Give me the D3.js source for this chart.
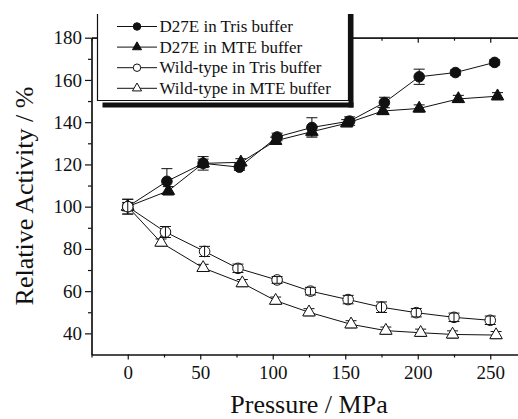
<!DOCTYPE html>
<html>
<head>
<meta charset="utf-8">
<script src="https://cdn.jsdelivr.net/npm/d3@7"></script>
<style>
  html, body { margin: 0; padding: 0; background: #fff; }
  svg { display: block; }
  text { font-family: "Liberation Serif", "Times New Roman", Times, serif; fill: #111; }
</style>
</head>
<body>
<svg id="chart" width="518" height="419"></svg>
<script>
// ---- data ----
const seriesNames = ["D27E in Tris buffer", "D27E in MTE buffer", "Wild-type in Tris buffer", "Wild-type in MTE buffer"];
const seriesSymbols = ["circle", "triangle", "circle", "triangle"];
const seriesFilled = [true, true, false, false];

const pressureD27ETris = [0, 27, 52, 77, 103, 127, 153, 177, 201, 226, 253];
const activityD27ETris = [100, 112, 120.5, 118.7, 133, 137.5, 140.5, 149.3, 161.5, 163.5, 168.3];
const errorD27ETris    = [3.5, 6, 3.2, 1.5, 1.8, 4.6, 2, 2.5, 3.6, 1.2, 1.2];

const pressureD27EMTE = [0, 28, 52, 78, 102, 127, 151, 176, 201, 228, 255];
const activityD27EMTE = [100, 107.5, 120.5, 121, 131.2, 135.5, 139.5, 145.3, 146.5, 151, 152.3];
const errorD27EMTE    = [2, 2, 2, 1.7, 1.7, 2, 1.7, 1.7, 1.7, 1.7, 1.7];

const pressureWTTris = [0, 26, 53, 76, 103, 126, 152, 175, 199, 225, 250];
const activityWTTris = [100, 88, 78.8, 70.8, 65.3, 60, 56, 52.4, 49.8, 47.6, 46.2];
const errorWTTris    = [3.5, 2.6, 2.4, 2, 1.6, 1.8, 2, 2.5, 2, 2, 2];

const pressureWTMTE = [0, 23, 52, 79, 102, 125, 154, 178, 202, 224, 254];
const activityWTMTE = [100, 83, 71, 63.8, 55.5, 50, 44.3, 41.3, 40.3, 39.5, 39.2];
const errorWTMTE    = [1.7, 1.7, 1.7, 1.7, 1.7, 1.7, 1.7, 1.7, 1.7, 1.7, 1.7];

const xMajorTicks = [0, 50, 100, 150, 200, 250];
const xMinorTicks = [-25, 25, 75, 125, 175, 225];
const yMajorTicks = [40, 60, 80, 100, 120, 140, 160, 180];
const yMinorTicks = [50, 70, 90, 110, 130, 150, 170];

const xTitle = "Pressure / MPa";
const yTitle = "Relative Activity / %";

// ---- build series ----
const pressures = [pressureD27ETris, pressureD27EMTE, pressureWTTris, pressureWTMTE];
const activities = [activityD27ETris, activityD27EMTE, activityWTTris, activityWTMTE];
const errors = [errorD27ETris, errorD27EMTE, errorWTTris, errorWTMTE];
const series = seriesNames.map((name, i) => ({
  name, symbol: seriesSymbols[i], filled: seriesFilled[i],
  points: pressures[i].map((p, j) => ({ p, v: activities[i][j], e: errors[i][j] }))
}));

// ---- layout ----
const svg = d3.select("#chart");
const plotLeft = 91.5, plotBottom = 354.5, plotTop = 37.7;
const x = d3.scaleLinear().domain([-25, 275]).range([plotLeft, plotLeft + 300 * 1.45]);
const y = d3.scaleLinear().domain([30, 180]).range([plotBottom, plotTop]);

svg.append("rect").attr("width", 518).attr("height", 419).attr("fill", "#fff");

function styleAxis(g) {
  g.selectAll("path, line").attr("stroke", "#111").attr("stroke-width", 1.2);
  g.selectAll("text").attr("font-family", "Liberation Serif").attr("font-size", 19).attr("fill", "#222");
}
// bottom
svg.append("g").attr("transform", `translate(0,${plotBottom})`)
  .call(d3.axisBottom(x).tickValues(xMajorTicks).tickSize(5).tickSizeOuter(0).tickPadding(6.5).tickFormat(d3.format("d")))
  .call(styleAxis);
svg.append("g").attr("transform", `translate(0,${plotBottom})`)
  .call(d3.axisBottom(x).tickValues(xMinorTicks).tickSize(3).tickSizeOuter(0).tickFormat(""))
  .call(styleAxis);
// top (inward ticks, no labels)
svg.append("g").attr("transform", `translate(0,${plotTop})`)
  .call(d3.axisBottom(x).tickValues(xMajorTicks).tickSize(5).tickSizeOuter(0).tickFormat(""))
  .call(styleAxis);
svg.append("g").attr("transform", `translate(0,${plotTop})`)
  .call(d3.axisBottom(x).tickValues(xMinorTicks).tickSize(3).tickSizeOuter(0).tickFormat(""))
  .call(styleAxis);
// left
svg.append("g").attr("transform", `translate(${plotLeft},0)`)
  .call(d3.axisLeft(y).tickValues(yMajorTicks).tickSize(6.5).tickSizeOuter(0).tickPadding(3).tickFormat(d3.format("d")))
  .call(styleAxis);
svg.append("g").attr("transform", `translate(${plotLeft},0)`)
  .call(d3.axisLeft(y).tickValues(yMinorTicks).tickSize(3.5).tickSizeOuter(0).tickFormat(""))
  .call(styleAxis);

// titles
svg.append("text").attr("x", 309).attr("y", 413).attr("text-anchor", "middle")
  .attr("font-size", 26).text(xTitle);
svg.append("text").attr("transform", `translate(33,196) rotate(-90)`)
  .attr("text-anchor", "middle").attr("font-size", 26).text(yTitle);

const symGen = (sym, size) => d3.symbol().type(sym === "circle" ? d3.symbolCircle : d3.symbolTriangle).size(size)();

const line = d3.line().x(d => x(d.p)).y(d => y(d.v));
const plot = svg.append("g");

function drawErrors(s) {
  const g = plot.append("g").attr("stroke", "#111").attr("stroke-width", 1);
  s.points.forEach(d => {
    const cx = x(d.p), y1 = y(d.v + d.e), y2 = y(d.v - d.e);
    g.append("line").attr("x1", cx).attr("x2", cx).attr("y1", y1).attr("y2", y2);
    g.append("line").attr("x1", cx - 5.5).attr("x2", cx + 5.5).attr("y1", y1).attr("y2", y1);
    g.append("line").attr("x1", cx - 5.5).attr("x2", cx + 5.5).attr("y1", y2).attr("y2", y2);
  });
}
function drawMarkers(s) {
  const size = s.symbol === "circle" ? 88 : 68;
  plot.append("g").selectAll("path").data(s.points).join("path")
    .attr("transform", d => `translate(${x(d.p)},${y(d.v)})`)
    .attr("d", symGen(s.symbol, size))
    .attr("fill", s.filled ? "#111" : "#fff")
    .attr("stroke", "#111").attr("stroke-width", 1);
}

series.forEach(s => {
  plot.append("path").attr("d", line(s.points)).attr("fill", "none").attr("stroke", "#111").attr("stroke-width", 1);
});
// triangles: error bars beneath the symbols
series.filter(s => s.symbol === "triangle").forEach(s => { drawErrors(s); drawMarkers(s); });
// circles: error bars drawn over the symbols
series.filter(s => s.symbol === "circle").forEach(s => { drawMarkers(s); drawErrors(s); });

// legend
const lg = svg.append("g");
lg.append("rect").attr("x", 348.5).attr("y", 14).attr("width", 5).attr("height", 93.5).attr("fill", "#111");
lg.append("rect").attr("x", 102.5).attr("y", 102.5).attr("width", 251).attr("height", 5).attr("fill", "#111");
lg.append("rect").attr("x", 97.5).attr("y", -2).attr("width", 251).attr("height", 102).attr("fill", "#fff");
lg.append("path").attr("d", "M97.5,14V100.5H348.5V14").attr("fill", "none").attr("stroke", "#111").attr("stroke-width", 1.2);
series.forEach((s, i) => {
  const cy = 26.5 + i * 20.6;
  lg.append("line").attr("x1", 117).attr("x2", 157).attr("y1", cy).attr("y2", cy)
    .attr("stroke", "#111").attr("stroke-width", 1);
  lg.append("path").attr("transform", `translate(137,${cy})`)
    .attr("d", symGen(s.symbol, s.symbol === "circle" ? 44 : 36))
    .attr("fill", s.filled ? "#111" : "#fff").attr("stroke", "#111").attr("stroke-width", 1);
  lg.append("text").attr("x", 159.5).attr("y", cy + 5.5).attr("font-size", 17).text(s.name);
});
</script>
</body>
</html>
